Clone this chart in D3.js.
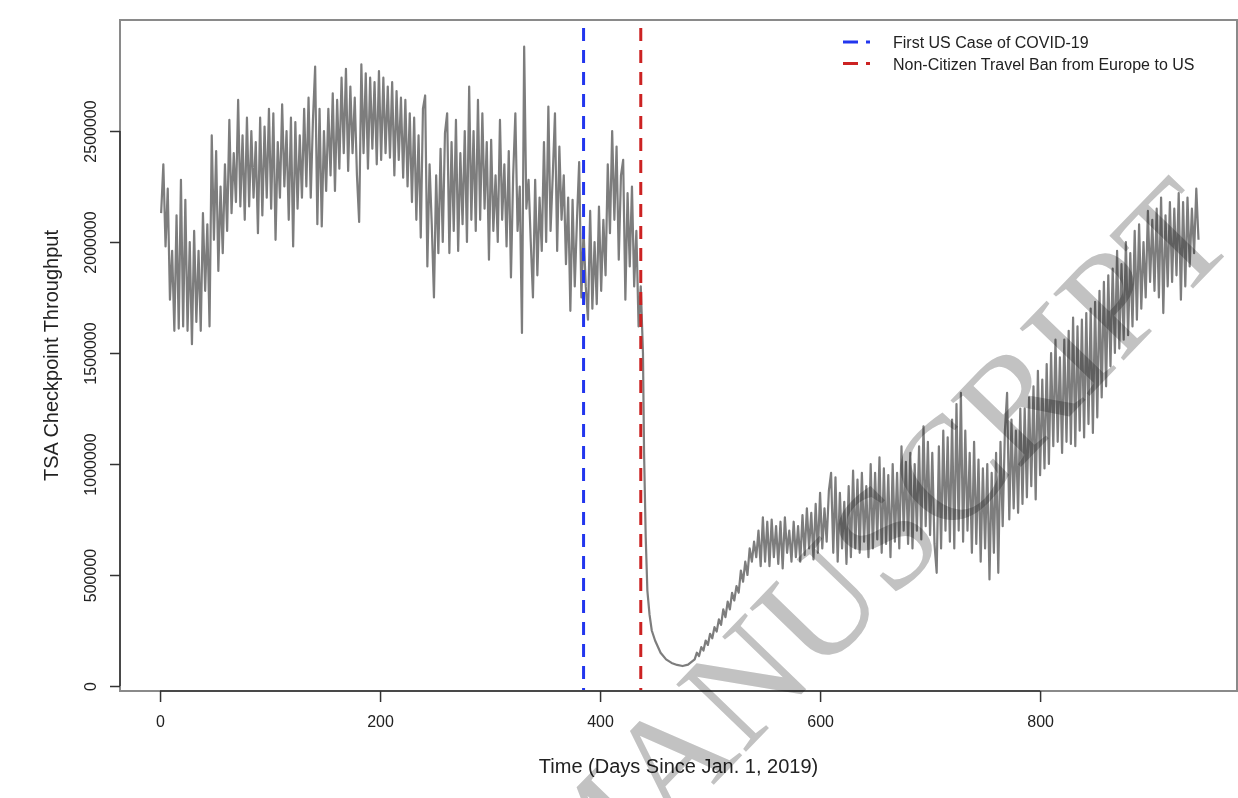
<!DOCTYPE html>
<html>
<head>
<meta charset="utf-8">
<script src="https://d3js.org/d3.v7.min.js"></script>
<style>
  body { margin: 0; background: #fff; }
  svg { display: block; font-family: "Liberation Sans", Arial, sans-serif; }
</style>
</head>
<body>
<svg id="chart" width="1238" height="798"></svg>
<script>

// TSA throughput every 2 days (alternating weekday highs / lows)
var preStart = 1, postStart = 486, step = 2;

var tsaPre = [
  2130000, 2350000, 1980000, 2240000, 1740000, 1960000, 1600000, 2120000, 1610000, 2280000,
  1620000, 2190000, 1600000, 2000000, 1540000, 2050000, 1640000, 1960000, 1600000, 2130000,
  1780000, 2080000, 1620000, 2480000, 2010000, 2410000, 1870000, 2250000, 1950000, 2350000,
  2050000, 2550000, 2130000, 2400000, 2180000, 2640000, 2160000, 2480000, 2100000, 2560000,
  2160000, 2500000, 2200000, 2450000, 2040000, 2560000, 2120000, 2520000, 2200000, 2600000,
  2150000, 2580000, 2010000, 2450000, 2200000, 2620000, 2250000, 2500000, 2100000, 2560000,
  1980000, 2540000, 2150000, 2480000, 2200000, 2600000, 2250000, 2650000, 2200000, 2550000,
  2790000, 2080000, 2600000, 2070000, 2500000, 2230000, 2600000, 2300000, 2670000, 2230000,
  2640000, 2330000, 2740000, 2400000, 2780000, 2320000, 2700000, 2400000, 2650000, 2300000,
  2090000, 2800000, 2400000, 2760000, 2330000, 2740000, 2420000, 2720000, 2350000, 2770000,
  2370000, 2740000, 2400000, 2700000, 2380000, 2720000, 2300000, 2680000, 2370000, 2650000,
  2290000, 2640000, 2250000, 2580000, 2180000, 2560000, 2100000, 2480000, 2020000, 2600000,
  2660000, 1890000, 2350000, 2080000, 1750000, 2300000, 1950000, 2420000, 2000000, 2490000,
  2580000, 1950000, 2450000, 2050000, 2550000, 1960000, 2400000, 2080000, 2500000, 2000000,
  2700000, 2100000, 2500000, 2050000, 2640000, 2100000, 2580000, 2150000, 2450000, 1920000,
  2460000, 2050000, 2300000, 2000000, 2550000, 2100000, 2350000, 1980000, 2410000, 1840000,
  2300000, 2580000, 2050000, 2250000, 1590000, 2880000, 2150000, 2280000, 2000000, 1750000,
  2280000, 1850000, 2200000, 1960000, 2450000, 2000000, 2610000, 2050000, 2300000, 2580000,
  1960000, 2430000, 2100000, 2300000, 1900000, 2200000, 1690000, 2190000, 1800000, 2100000,
  2360000, 1750000, 2050000, 1800000, 1650000, 2140000, 1700000, 2000000, 1720000, 2160000,
  1780000, 2100000, 1850000, 2350000, 2040000, 2500000, 2100000, 2430000, 1920000, 2300000,
  2370000, 1740000, 2220000, 1890000, 2250000, 1800000, 2050000, 1620000, 1800000
];

// the collapse in March-April 2020
var crashDays = [439, 440, 441.5, 443, 445, 447, 450, 455, 460, 465, 470, 475, 480];
var crashVals = [1500000, 1050000, 670000, 430000, 320000, 250000, 205000, 150000, 120000, 104000, 95000, 90000, 96000];

var tsaPost = [
  120000, 150000, 135000, 175000, 160000, 205000, 185000, 235000, 215000, 265000,
  245000, 300000, 275000, 345000, 310000, 380000, 345000, 420000, 385000, 450000,
  420000, 520000, 470000, 560000, 500000, 620000, 560000, 650000, 580000, 700000,
  540000, 760000, 560000, 740000, 540000, 750000, 580000, 720000, 550000, 740000,
  530000, 760000, 600000, 700000, 560000, 740000, 580000, 720000, 560000, 770000,
  590000, 800000, 620000, 780000, 570000, 820000, 600000, 870000, 620000, 800000,
  650000, 880000, 960000, 600000, 940000, 560000, 870000, 620000, 830000, 550000,
  900000, 580000, 970000, 620000, 930000, 600000, 960000, 650000, 900000, 580000,
  1000000, 620000, 960000, 660000, 1030000, 600000, 980000, 640000, 950000, 580000,
  1000000, 650000, 960000, 620000, 1080000, 700000, 1010000, 640000, 1050000, 620000,
  1000000, 700000, 1080000, 660000, 1170000, 720000, 1100000, 680000, 1050000, 640000,
  510000, 1080000, 620000, 1150000, 700000, 1120000, 650000, 1200000, 620000, 1270000,
  700000, 1320000, 650000, 1150000, 700000, 1050000, 600000, 1100000, 640000, 1020000,
  560000, 980000, 620000, 1000000, 480000, 960000, 600000, 1050000, 510000, 1100000,
  720000, 1150000, 1320000, 750000, 1200000, 800000, 1150000, 780000, 1250000, 820000,
  1250000, 850000, 1300000, 900000, 1350000, 840000, 1420000, 950000, 1380000, 980000,
  1450000, 1000000, 1500000, 1080000, 1560000, 1100000, 1480000, 1050000, 1560000, 1100000,
  1600000, 1090000, 1660000, 1080000, 1620000, 1150000, 1650000, 1120000, 1680000, 1180000,
  1700000, 1140000, 1730000, 1210000, 1780000, 1300000, 1820000, 1350000, 1850000, 1440000,
  1880000, 1500000, 1960000, 1520000, 1900000, 1560000, 2000000, 1580000, 1950000, 1620000,
  2050000, 1650000, 2080000, 1700000, 2000000, 1750000, 2140000, 1820000, 2100000, 1780000,
  2150000, 1750000, 2200000, 1680000, 2120000, 1800000, 2180000, 1820000, 2150000, 1850000,
  2220000, 1740000, 2180000, 1800000, 2200000, 1890000, 2150000, 1950000, 2240000, 2010000
];

var xTicks = [0, 200, 400, 600, 800];
var yTicks = [0, 500000, 1000000, 1500000, 2000000, 2500000];

var eventDays = [385, 437];
var eventLabels = ["First US Case of COVID-19", "Non-Citizen Travel Ban from Europe to US"];
var eventColors = ["#2236ee", "#cc2222"];

var svg = d3.select("#chart");
var plotLeft = 120, plotRight = 1237, plotTop = 20, plotBottom = 691;

var x = d3.scaleLinear().domain([-36.4, 979]).range([plotLeft, plotRight]);
var y = d3.scaleLinear().domain([-22500, 3000000]).range([plotBottom, plotTop]);

var series = [];
tsaPre.forEach(function (v, i) { series.push({day: preStart + i * step, value: v}); });
crashDays.forEach(function (d, i) { series.push({day: d, value: crashVals[i]}); });
tsaPost.forEach(function (v, i) { series.push({day: postStart + i * step, value: v}); });

// the throughput line
svg.append("path")
    .datum(series)
    .attr("fill", "none")
    .attr("stroke", "#7d7d7d")
    .attr("stroke-width", 2.2)
    .attr("stroke-linejoin", "round")
    .attr("d", d3.line().x(function (d) { return x(d.day); }).y(function (d) { return y(d.value); }));

// event lines
svg.selectAll(".event")
    .data(eventDays)
    .enter()
    .append("line")
    .attr("x1", function (d) { return x(d); })
    .attr("x2", function (d) { return x(d); })
    .attr("y1", plotTop + 8)
    .attr("y2", plotBottom)
    .attr("stroke", function (d, i) { return eventColors[i]; })
    .attr("stroke-width", 3)
    .attr("stroke-dasharray", "13,9");

// box
svg.append("rect")
    .attr("x", plotLeft).attr("y", plotTop)
    .attr("width", plotRight - plotLeft).attr("height", plotBottom - plotTop)
    .attr("fill", "none")
    .attr("stroke", "#8a8a8a")
    .attr("stroke-width", 2);

// x axis
var gx = svg.append("g")
    .attr("transform", "translate(0," + plotBottom + ")")
    .call(d3.axisBottom(x).tickValues(xTicks).tickSize(11).tickPadding(14).tickFormat(d3.format("d")));
gx.select(".domain").remove();
gx.append("line")
    .attr("x1", x(xTicks[0])).attr("x2", x(xTicks[xTicks.length - 1]))
    .attr("stroke", "#333").attr("stroke-width", 1.5);
gx.selectAll("line").attr("stroke", "#333").attr("stroke-width", 1.5);
gx.selectAll("text")
    .attr("fill", "#222")
    .style("font-size", "16px")
    .style("font-family", "Liberation Sans, Arial, sans-serif");

// y axis
var gy = svg.append("g")
    .attr("transform", "translate(" + plotLeft + ",0)")
    .call(d3.axisLeft(y).tickValues(yTicks).tickSize(10).tickFormat(d3.format("d")));
gy.select(".domain").remove();
gy.append("line")
    .attr("y1", y(yTicks[0])).attr("y2", y(yTicks[yTicks.length - 1]))
    .attr("stroke", "#333").attr("stroke-width", 1.5);
gy.selectAll("line").attr("stroke", "#333").attr("stroke-width", 1.5);
gy.selectAll("text")
    .attr("transform", "rotate(-90)")
    .attr("x", 0)
    .attr("y", -24)
    .attr("dy", 0)
    .attr("text-anchor", "middle")
    .attr("fill", "#222")
    .style("font-size", "16px")
    .style("font-family", "Liberation Sans, Arial, sans-serif");

// axis titles
svg.append("text")
    .attr("x", (plotLeft + plotRight) / 2)
    .attr("y", 773)
    .attr("text-anchor", "middle")
    .attr("fill", "#222")
    .style("font-size", "20px")
    .text("Time (Days Since Jan. 1, 2019)");

svg.append("text")
    .attr("transform", "translate(58," + (plotTop + plotBottom) / 2 + ") rotate(-90)")
    .attr("text-anchor", "middle")
    .attr("fill", "#222")
    .style("font-size", "20px")
    .text("TSA Checkpoint Throughput");

// legend
var legend = svg.selectAll(".legend")
    .data(eventLabels)
    .enter()
    .append("g")
    .attr("transform", function (d, i) { return "translate(843," + (42 + i * 21.5) + ")"; });
legend.append("line")
    .attr("x1", 0).attr("x2", 27)
    .attr("stroke", function (d, i) { return eventColors[i]; })
    .attr("stroke-width", 3)
    .attr("stroke-dasharray", "15,8");
legend.append("text")
    .attr("x", 50)
    .attr("y", 6)
    .attr("fill", "#222")
    .style("font-size", "16px")
    .text(function (d) { return d; });

// manuscript watermark
svg.append("text")
    .attr("transform", "translate(1240,240) rotate(-46)")
    .attr("text-anchor", "end")
    .attr("fill", "#c2c2c2")
    .style("mix-blend-mode", "multiply")
    .style("font-family", "Liberation Serif, Times New Roman, serif")
    .style("font-size", "148px")
    .text("AUTHOR MANUSCRIPT");

</script>
</body>
</html>
